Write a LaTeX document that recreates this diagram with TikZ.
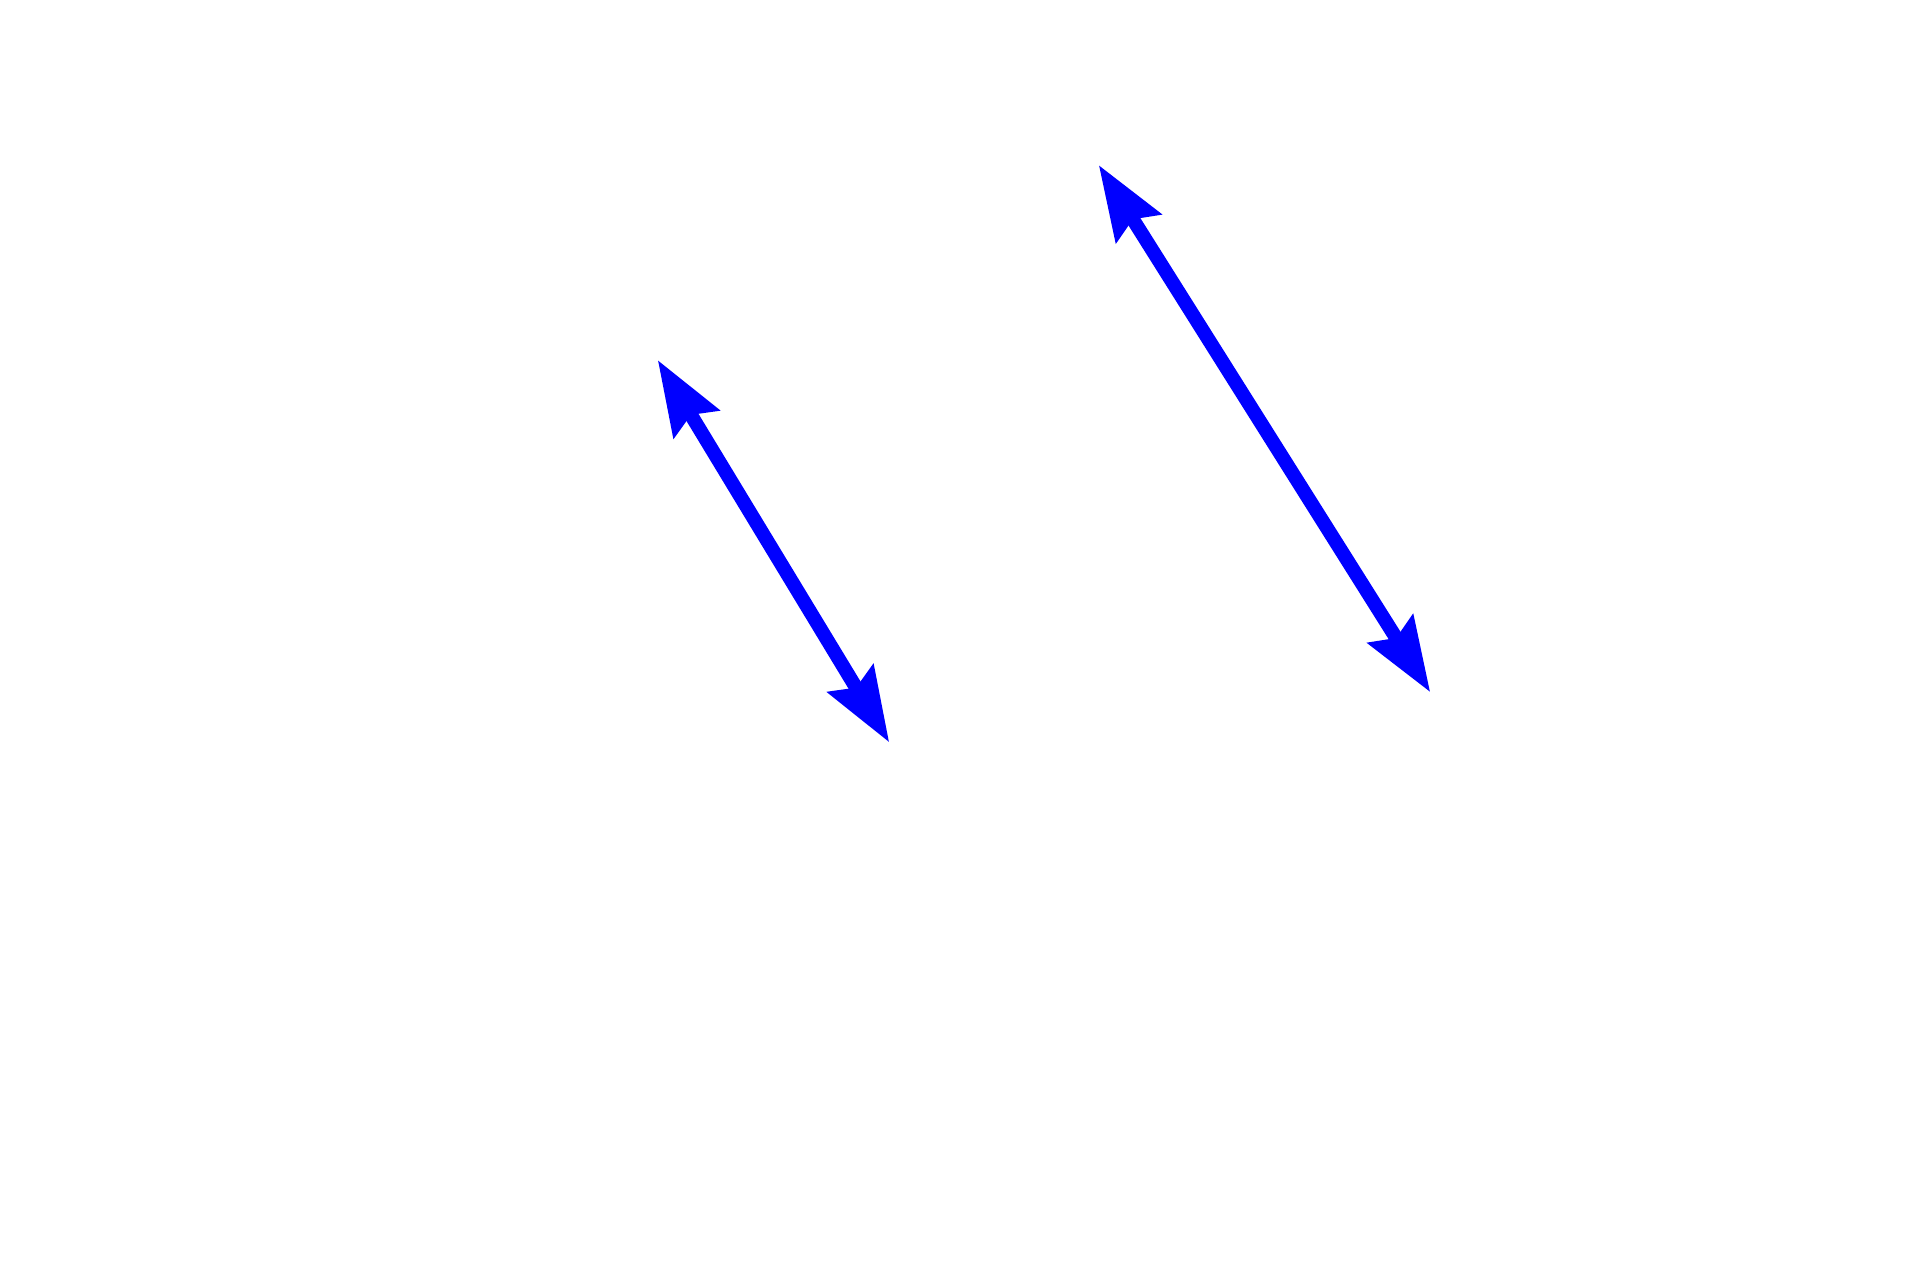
\documentclass[tikz,border=0pt]{standalone}
\usetikzlibrary{arrows.meta}

\begin{document}
\begin{tikzpicture}[
    dblarrow/.style={draw=blue, line width=0.14cm,
      {Stealth[length=0.74cm, width=0.52cm, inset=0.1cm]}-{Stealth[length=0.74cm, width=0.52cm, inset=0.1cm]}}
  ]
    \useasboundingbox (0,0) rectangle (19.2,-12.8);

    \coordinate (a)at(6.577,-3.600);
    \coordinate (b)at(8.893,-7.425);
    \coordinate (c)at(10.987,-1.650);
    \coordinate (d)at(14.303,-6.923);

    \draw [dblarrow](a)--(b);
    \draw [dblarrow](c)--(d);
\end{tikzpicture}
\end{document}
